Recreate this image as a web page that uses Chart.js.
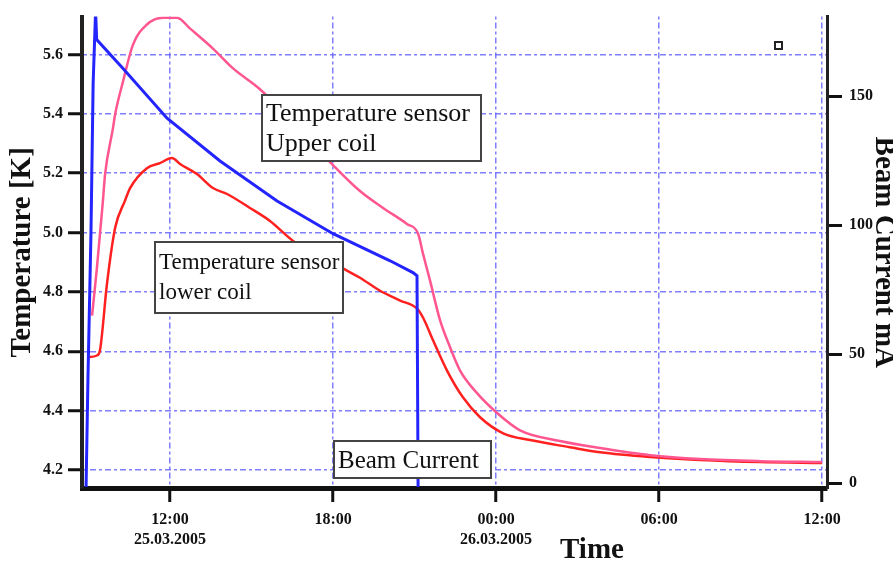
<!DOCTYPE html>
<html>
<head>
<meta charset="utf-8">
<title>Temperature and beam current</title>
<script src="https://cdn.jsdelivr.net/npm/chart.js@4/dist/chart.umd.min.js"></script>
<style>
  body { margin: 0; background: #fff; }
  #wrap { width: 893px; height: 561px; }
</style>
</head>
<body>
<div id="wrap"><canvas id="myChart" width="893" height="561"></canvas></div>
<script>
// time in hours counted from 25.03.2005 00:00
var timeTicks = [12, 18, 24, 30, 36];
var timeLabels = [["12:00", "25.03.2005"], ["18:00"], ["00:00", "26.03.2005"], ["06:00"], ["12:00"]];
var tempTicks = [4.2, 4.4, 4.6, 4.8, 5.0, 5.2, 5.4, 5.6];
var currentTicks = [0, 50, 100, 150];

// beam current, mA (right axis)
var tBeam = [8.91, 8.98, 9.09, 9.17, 9.26, 9.30, 10.27, 11.89, 13.84, 15.94, 18.0, 20.1, 20.94, 21.09, 21.13];
var beamCurrent = [-1.5, 41, 97, 155, 183, 172, 160.8, 141.5, 124.9, 109.4, 96.7, 86.2, 81.6, 80.4, -1.5];

// temperature sensor, upper coil, K
var tUpper = [9.13, 9.31, 9.53, 9.61, 9.90, 9.98, 10.27, 10.64, 11.15, 11.74, 12.26, 12.74, 13.58, 14.32, 15.31,
  17.96, 18.99, 19.84, 20.72, 21.13, 21.31, 21.57, 21.94, 22.31, 22.67, 23.30, 24.04, 24.88, 26.35, 27.83, 29.67, 31.51, 33.72, 36.0];
var tempUpper = [4.720, 4.882, 5.107, 5.197, 5.352, 5.399, 5.509, 5.634, 5.701, 5.724, 5.724, 5.687, 5.620, 5.553, 5.483,
  5.231, 5.140, 5.083, 5.029, 4.996, 4.929, 4.838, 4.704, 4.613, 4.536, 4.459, 4.392, 4.334, 4.298, 4.274, 4.250, 4.237, 4.230, 4.227];

// temperature sensor, lower coil, K
var tLower = [8.98, 9.31, 9.42, 9.68, 9.98, 10.34, 10.53, 11.15, 11.63, 12.07, 12.37, 12.99, 13.58, 14.10, 14.94, 15.68, 16.53,
  18.51, 18.99, 19.73, 20.47, 21.09, 21.31, 21.68, 22.19, 22.78, 23.41, 24.26, 25.25, 26.72, 27.83, 29.67, 31.51, 33.72, 36.0];
var tempLower = [4.580, 4.586, 4.603, 4.828, 5.016, 5.107, 5.150, 5.217, 5.234, 5.251, 5.231, 5.197, 5.150, 5.130, 5.083, 5.039, 4.972,
  4.872, 4.848, 4.804, 4.771, 4.744, 4.714, 4.637, 4.536, 4.445, 4.378, 4.324, 4.301, 4.277, 4.260, 4.244, 4.234, 4.227, 4.224];

function pairs(xs, ys) {
  return xs.map(function (x, i) { return { x: x, y: ys[i] }; });
}

var gridBlue = "rgba(105,105,255,0.85)";
var gridDash = [3, 3, 6, 3];
var serif = "'Liberation Serif', 'DejaVu Serif', serif";

function boxText(ctx, x, y, w, h, lines, size, base, gap) {
  ctx.save();
  ctx.fillStyle = "#fff";
  ctx.fillRect(x, y, w, h);
  ctx.strokeStyle = "#444";
  ctx.lineWidth = 2;
  ctx.strokeRect(x, y, w, h);
  ctx.fillStyle = "#111";
  ctx.font = size + "px " + serif;
  ctx.textBaseline = "alphabetic";
  for (var i = 0; i < lines.length; i++) {
    ctx.fillText(lines[i], x + 4, y + base + i * gap);
  }
  ctx.restore();
}

var notes = {
  id: "notes",
  afterDatasetsDraw: function (chart) {
    var ctx = chart.ctx;
    boxText(ctx, 262, 95, 219, 66, ["Temperature sensor", "Upper coil"], 26, 26, 30);
    boxText(ctx, 155, 242, 188, 71, ["Temperature sensor", "lower coil"], 23, 27, 30);
    boxText(ctx, 334, 441, 157, 37, ["Beam Current"], 25, 27, 0);
    ctx.save();
    ctx.strokeStyle = "#222";
    ctx.lineWidth = 2;
    ctx.strokeRect(775, 42, 7, 7);
    ctx.fillStyle = "#111";
    ctx.font = "bold 29px " + serif;
    ctx.textAlign = "center";
    ctx.fillText("Time", 592, 558);
    ctx.restore();
  }
};

new Chart("myChart", {
  type: "line",
  data: {
    datasets: [{
      label: "Beam Current",
      data: pairs(tBeam, beamCurrent),
      yAxisID: "yB",
      borderColor: "#2424ff",
      borderWidth: 3
    }, {
      label: "Temperature sensor Upper coil",
      data: pairs(tUpper, tempUpper),
      yAxisID: "yT",
      borderColor: "#ff5590",
      borderWidth: 2.5,
      cubicInterpolationMode: "monotone"
    }, {
      label: "Temperature sensor lower coil",
      data: pairs(tLower, tempLower),
      yAxisID: "yT",
      borderColor: "#ff2020",
      borderWidth: 2.5,
      cubicInterpolationMode: "monotone"
    }]
  },
  options: {
    responsive: false,
    animation: false,
    parsing: false,
    elements: { point: { radius: 0 }, line: { tension: 0 } },
    layout: { padding: { top: 15 } },
    plugins: { legend: { display: false }, tooltip: { enabled: false } },
    scales: {
      x: {
        type: "linear",
        position: "bottom",
        min: 8.76,
        max: 36.18,
        afterBuildTicks: function (s) { s.ticks = timeTicks.map(function (v) { return { value: v }; }); },
        afterFit: function (s) { s.height = 73; },
        ticks: {
          autoSkip: false,
          maxRotation: 0,
          padding: 7,
          color: "#111",
          font: { family: serif, size: 16, weight: "bold", lineHeight: 1.3 },
          callback: function (v, i) { return timeLabels[i]; }
        },
        grid: { color: gridBlue, lineWidth: 1.5, tickColor: "#111", tickWidth: 3, tickLength: 14, tickBorderDash: [] },
        border: { color: "#111", width: 5, dash: gridDash }
      },
      yT: {
        type: "linear",
        position: "left",
        min: 4.1396,
        max: 5.7276,
        afterBuildTicks: function (s) { s.ticks = tempTicks.map(function (v) { return { value: v }; }); },
        afterFit: function (s) { s.width = 82; },
        ticks: {
          padding: 5,
          color: "#111",
          font: { family: serif, size: 16, weight: "bold" },
          callback: function (v) { return v.toFixed(1); }
        },
        grid: { color: gridBlue, lineWidth: 1.5, tickColor: "#111", tickWidth: 3, tickLength: 14, tickBorderDash: [] },
        border: { color: "#222", width: 4, dash: gridDash },
        title: {
          display: true,
          text: "Temperature [K]",
          color: "#111",
          font: { family: serif, size: 29, weight: "bold", lineHeight: 1 },
          padding: { top: 8, bottom: 0 }
        }
      },
      yB: {
        type: "linear",
        position: "right",
        min: -1.93,
        max: 180.9,
        afterBuildTicks: function (s) { s.ticks = currentTicks.map(function (v) { return { value: v }; }); },
        afterFit: function (s) { s.width = 66; },
        ticks: {
          padding: 7,
          color: "#111",
          font: { family: serif, size: 16, weight: "bold" }
        },
        grid: { drawOnChartArea: false, color: "#111", tickColor: "#111", tickWidth: 3, tickLength: 15, tickBorderDash: [] },
        border: { color: "#222", width: 3 },
        title: {
          display: true,
          text: "Beam Current mA",
          color: "#111",
          font: { family: serif, size: 29, weight: "bold", lineHeight: 0.65 },
          padding: 0
        }
      }
    }
  },
  plugins: [notes]
});
</script>
</body>
</html>
